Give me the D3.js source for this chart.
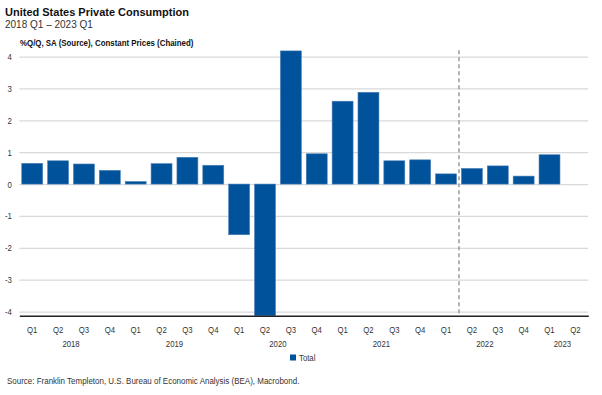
<!DOCTYPE html>
<html><head><meta charset="utf-8">
<script src="https://cdn.jsdelivr.net/npm/d3@7"></script>
<style>
body{margin:0;background:#fff;}
svg{display:block;}
</style></head>
<body><svg id="c" width="602" height="395"></svg>
<script>
const quarters = ["Q1","Q2","Q3","Q4","Q1","Q2","Q3","Q4","Q1","Q2","Q3","Q4","Q1","Q2","Q3","Q4","Q1","Q2","Q3","Q4","Q1","Q2"];
const years = ["2018","2018","2018","2018","2019","2019","2019","2019","2020","2020","2020","2020","2021","2021","2021","2021","2022","2022","2022","2022","2023","2023"];
const totalValues = [0.65,0.73,0.63,0.43,0.08,0.64,0.84,0.59,-1.59,-10.2,4.18,0.95,2.6,2.88,0.73,0.76,0.32,0.49,0.57,0.25,0.92,null];
const yTicks = [-4,-3,-2,-1,0,1,2,3,4];
const dividerAfter = 16; // vertical dashed line before 2022 Q2

const font = "'Liberation Sans',Arial,sans-serif";
const NS = 0.82; // narrow horizontal squeeze
const svg = d3.select("#c");
const ids = d3.range(quarters.length);
const x = d3.scaleBand().domain(ids).range([19.3,588.3]).paddingInner(0.19).paddingOuter(0.095);
const y = d3.scaleLinear().domain([-4.13,4.2]).range([315.7,50.2]);

function narrowText(g, px, py, txt, size, opts={}){
  const t = g.append("text").attr("transform",`translate(${px},${py}) scale(${opts.sx||NS},1)`)
    .attr("font-family",font).attr("font-size",size).attr("fill",opts.fill||"#333").text(txt);
  if(opts.bold) t.attr("font-weight","bold");
  if(opts.anchor) t.attr("text-anchor",opts.anchor);
  return t;
}

// titles
svg.append("text").attr("x",5).attr("y",15.5).attr("font-family",font).attr("font-weight","bold").attr("font-size",11).attr("fill","#111").text("United States Private Consumption");
svg.append("text").attr("x",5).attr("y",27.5).attr("font-family",font).attr("font-size",10).attr("fill","#333").text("2018 Q1 \u2013 2023 Q1");
narrowText(svg,20,46,"%Q/Q, SA (Source), Constant Prices (Chained)",9.5,{bold:true,fill:"#111",sx:0.83});

// grid
const yAxis = d3.axisLeft(y).tickValues(yTicks).tickSize(-(588.3-19.3)).tickFormat(d=>String(d)).tickPadding(9);
const gy = svg.append("g").attr("transform","translate(19.3,0)").call(yAxis);
gy.select(".domain").remove();
gy.selectAll(".tick line").attr("stroke","#d9d9d9").attr("stroke-width",1.2);
gy.selectAll(".tick text").attr("font-family",font).attr("font-size",9.5).attr("fill","#333").attr("transform",`scale(${NS},1)`);

// clip
svg.append("clipPath").attr("id","pc").append("rect").attr("x",19.3).attr("y",y.range()[1]).attr("width",569).attr("height",y.range()[0]-y.range()[1]);

// bars
svg.append("g").attr("clip-path","url(#pc)").selectAll("rect").data(ids.filter(i=>totalValues[i]!==null)).join("rect")
  .attr("x",i=>x(i)).attr("width",x.bandwidth())
  .attr("y",i=>y(Math.max(0,totalValues[i])))
  .attr("height",i=>Math.abs(y(totalValues[i])-y(0)))
  .attr("fill","#00529b").attr("stroke","#4d80b8").attr("stroke-width",0.6);

// divider
const xd = x(dividerAfter)+x.bandwidth()+x.step()*x.paddingInner()/2;
svg.append("line").attr("x1",xd).attr("x2",xd).attr("y1",y.range()[1]).attr("y2",y.range()[0])
  .attr("stroke","#8c8c8c").attr("stroke-width",1.3).attr("stroke-dasharray","4,3");

// x axis
const xAxis = d3.axisBottom(x).tickSize(0).tickFormat(i=>quarters[i]).tickPadding(11);
const gx = svg.append("g").attr("transform",`translate(0,${y.range()[0]})`).call(xAxis);
gx.select(".domain").attr("stroke","#222").attr("stroke-width",1.6);
gx.selectAll(".tick text").attr("font-family",font).attr("font-size",9.5).attr("fill","#333").attr("transform",`scale(${NS},1)`);

// year labels
const yearGroups = d3.groups(ids, i=>years[i]);
const gYears = svg.append("g");
yearGroups.forEach(g=>{
  const a = x(g[1][0]) - x.step()*x.paddingInner()/2;
  const b = x(g[1][g[1].length-1]) + x.bandwidth() + x.step()*x.paddingInner()/2;
  narrowText(gYears,(a+b)/2,346.5,g[0],9.5,{anchor:"middle"});
});

// legend
svg.append("rect").attr("x",290).attr("y",354.5).attr("width",6).attr("height",6).attr("fill","#00529b");
narrowText(svg,299,361,"Total",9.5);

// source
narrowText(svg,7,384,"Source: Franklin Templeton, U.S. Bureau of Economic Analysis (BEA), Macrobond.",9.5,{sx:0.84});
</script></body></html>
